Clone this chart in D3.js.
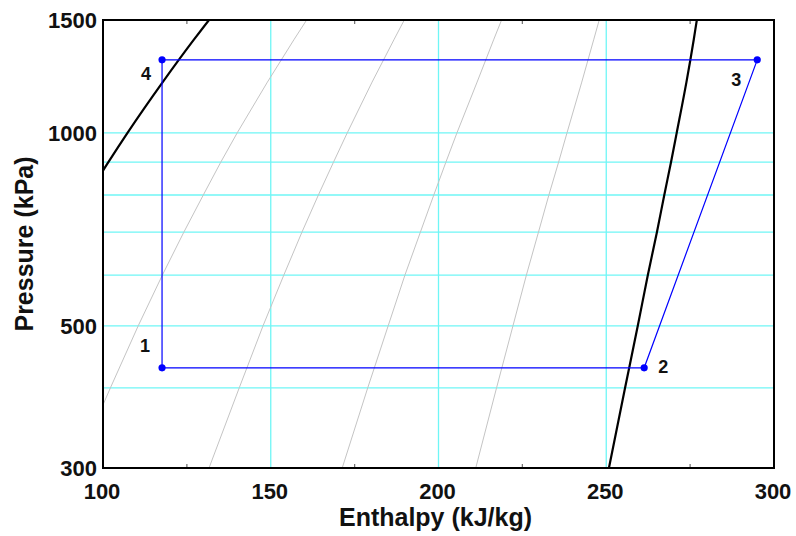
<!DOCTYPE html>
<html>
<head>
<meta charset="utf-8">
<script src="https://cdn.jsdelivr.net/npm/d3@7"></script>
<style>
  body { margin: 0; background: #fff; }
  text { font-family: "Liberation Sans", Arial, sans-serif; font-weight: bold; fill: #111; }
</style>
</head>
<body>
<div id="chart"></div>
<script>
// P-h diagram, R-134a refrigeration cycle

// saturation data (kPa, kJ/kg)
const satP  = [300, 400, 500, 600, 700, 800, 900, 1000, 1200, 1400, 1500, 1600];
const satHf = [52.1, 63.9, 73.3, 81.5, 88.8, 95.5, 101.6, 107.3, 117.8, 127.2, 131.6, 135.9];
const satHg = [250.8, 255.6, 259.4, 262.4, 265.1, 267.3, 269.3, 271.0, 273.9, 276.1, 277.0, 277.9];

// constant quality lines (x = 0.2, 0.4, 0.6, 0.8) at the pressures above
const qualityLines = [
  [91.8, 102.2, 110.5, 117.7, 124.1, 129.9, 135.1, 140.0, 149.0, 157.0, 160.7, 164.3],
  [131.6, 140.6, 147.7, 153.9, 159.3, 164.2, 168.7, 172.8, 180.2, 186.8, 189.8, 192.7],
  [171.3, 178.9, 185.0, 190.0, 194.6, 198.6, 202.2, 205.5, 211.5, 216.5, 218.8, 221.1],
  [211.1, 217.3, 222.2, 226.2, 229.8, 232.9, 235.8, 238.3, 242.7, 246.3, 247.9, 249.5]
];

// cycle states
const cycleLabels = ['1', '2', '3', '4'];
const cycleH = [117.6, 261.3, 295.0, 117.6];
const cycleP = [430, 430, 1300, 1300];

const xTicks = [100, 150, 200, 250, 300];
const xMinor = [125, 175, 225, 275];
const yTicks = [300, 500, 1000, 1500];
const yGrid = [400, 500, 600, 700, 800, 900, 1000];
const xGrid = [150, 200, 250];

const width = 796, height = 536;
const margin = { left: 103, right: 22, top: 20, bottom: 68 };

const svg = d3.select('#chart').append('svg')
  .attr('width', width)
  .attr('height', height);

const x = d3.scaleLinear().domain([100, 300]).range([margin.left, width - margin.right]);
const y = d3.scaleLog().domain([300, 1500]).range([height - margin.bottom, margin.top]);

svg.append('clipPath').attr('id', 'plot')
  .append('rect')
  .attr('x', x(100)).attr('y', y(1500))
  .attr('width', x(300) - x(100)).attr('height', y(300) - y(1500));

// grid
const grid = svg.append('g');
grid.selectAll('.gy').data(yGrid).enter().append('line')
  .attr('x1', x(100)).attr('x2', x(300))
  .attr('y1', d => y(d)).attr('y2', d => y(d))
  .attr('stroke', '#6ff6f6').attr('stroke-width', 1.3);
grid.selectAll('.gx').data(xGrid).enter().append('line')
  .attr('x1', d => x(d)).attr('x2', d => x(d))
  .attr('y1', y(300)).attr('y2', y(1500))
  .attr('stroke', '#6ff6f6').attr('stroke-width', 1.3);

const plot = svg.append('g').attr('clip-path', 'url(#plot)');

const line = d3.line().x(d => x(d[0])).y(d => y(d[1]));

// quality lines
plot.selectAll('.q').data(qualityLines).enter().append('path')
  .attr('d', hs => line(hs.map((h, i) => [h, satP[i]])))
  .attr('fill', 'none')
  .attr('stroke', '#c4c4c4')
  .attr('stroke-width', 1);

// saturation dome
[satHf, satHg].forEach(hs => {
  plot.append('path')
    .attr('d', line.curve(d3.curveMonotoneY)(hs.map((h, i) => [h, satP[i]])))
    .attr('fill', 'none')
    .attr('stroke', '#000')
    .attr('stroke-width', 2.2);
});
line.curve(d3.curveLinear);

// cycle
const pts = cycleH.map((h, i) => [h, cycleP[i]]);
plot.append('path')
  .attr('d', line(pts) + 'Z')
  .attr('fill', 'none')
  .attr('stroke', '#0000ff')
  .attr('stroke-width', 1.2);

plot.selectAll('.pt').data(pts).enter().append('circle')
  .attr('cx', d => x(d[0])).attr('cy', d => y(d[1]))
  .attr('r', 3.6)
  .attr('fill', '#0000ff');

const labelOffsets = [[-17, -16], [19, 5], [-21, 26], [-16, 20]];
svg.selectAll('.pl').data(pts).enter().append('text')
  .attr('x', (d, i) => x(d[0]) + labelOffsets[i][0])
  .attr('y', (d, i) => y(d[1]) + labelOffsets[i][1])
  .attr('text-anchor', 'middle')
  .attr('font-size', 18)
  .text((d, i) => cycleLabels[i]);

// minor ticks
[y(300), y(1500)].forEach((yy, k) => {
  svg.selectAll('.mt' + k).data(xMinor).enter().append('line')
    .attr('x1', d => x(d)).attr('x2', d => x(d))
    .attr('y1', yy).attr('y2', k === 0 ? yy - 4 : yy + 4)
    .attr('stroke', '#777').attr('stroke-width', 1.3);
});

// frame
svg.append('rect')
  .attr('x', x(100)).attr('y', y(1500))
  .attr('width', x(300) - x(100)).attr('height', y(300) - y(1500))
  .attr('fill', 'none')
  .attr('stroke', '#000')
  .attr('stroke-width', 2);

// tick labels
svg.selectAll('.xl').data(xTicks).enter().append('text')
  .attr('x', d => x(d) - 1).attr('y', 499)
  .attr('text-anchor', 'middle')
  .attr('font-size', 22)
  .text(d => d);

svg.selectAll('.yl').data(yTicks).enter().append('text')
  .attr('x', 97).attr('y', d => y(d) + 8)
  .attr('text-anchor', 'end')
  .attr('font-size', 22)
  .text(d => d);

// axis titles
svg.append('text')
  .attr('x', (x(100) + x(300)) / 2 - 3).attr('y', 526)
  .attr('text-anchor', 'middle')
  .attr('font-size', 25)
  .text('Enthalpy (kJ/kg)');

svg.append('text')
  .attr('transform', `translate(33,${(y(300) + y(1500)) / 2}) rotate(-90)`)
  .attr('text-anchor', 'middle')
  .attr('font-size', 25)
  .text('Pressure (kPa)');
</script>
</body>
</html>
